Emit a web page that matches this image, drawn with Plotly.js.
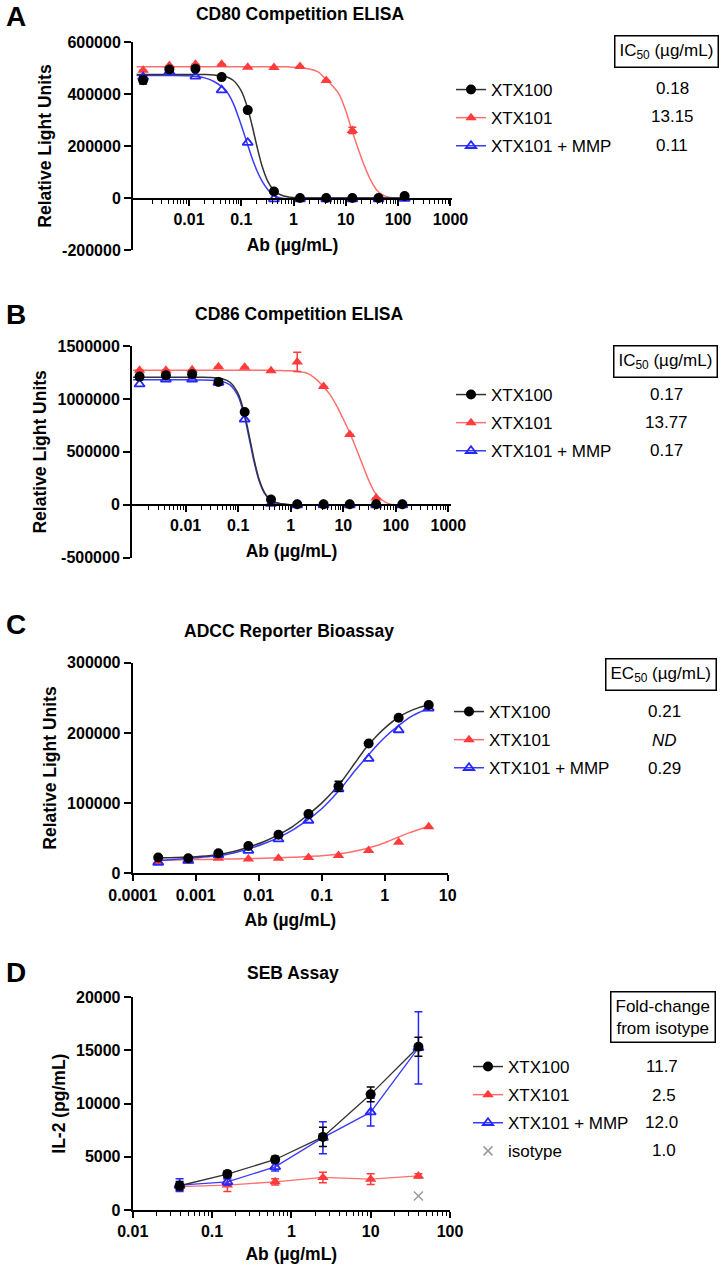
<!DOCTYPE html>
<html><head><meta charset="utf-8">
<script src="https://cdn.plot.ly/plotly-3.0.1.min.js"></script>
<style>html,body{margin:0;padding:0;background:#fff;}#chart{width:728px;height:1270px;}</style>
</head><body><div id="chart"></div>
<script>
// ---------------- DATA ----------------
const seriesNames = ['XTX100', 'XTX101', 'XTX101 + MMP'];
const isotypeName = 'isotype';

// Panels A & B: concentrations (µg/mL)
const concAB = [0.00133, 0.00422, 0.0133, 0.0422, 0.133, 0.422, 1.33, 4.22, 13.3, 42.2, 133];
// Panel A: CD80 competition ELISA (RLU)
const A_xtx100 = [453000, 494000, 497000, 465000, 338000, 25000, 0, 0, 0, 0, 8000];
const A_xtx100_err = [15000, 0, 0, 0, 0, 0, 0, 0, 0, 0, 0];
const A_xtx101 = [491000, 510000, 514000, 514000, 503000, 502000, 506000, 452000, 260000, 3000, -1000];
const A_xtx101_err = [0, 0, 0, 0, 0, 0, 0, 0, 12000, 0, 0];
const A_mmp = [465000, 485000, 468000, 415000, 213000, -4000, -4000, -4000, -4000, -4000, -2000];
// Panel B: CD86 competition ELISA (RLU)
const B_xtx100 = [1211000, 1224000, 1233000, 1161000, 876000, 50000, 5000, 5000, 5000, 5000, 5000];
const B_xtx100_err = [20000, 15000, 25000, 0, 0, 0, 0, 0, 0, 0, 0];
const B_xtx101 = [1270000, 1272000, 1275000, 1305000, 1300000, 1265000, 1350000, 1117000, 664000, 63000, 0];
const B_xtx101_err = [0, 0, 0, 0, 0, 0, 90000, 0, 0, 0, 0];
const B_mmp = [1139000, 1186000, 1186000, 1155000, 807000, 10000, -3000, -3000, -3000, -3000, -3000];

// Fitted curves A & B
const fitX_AB = [0.001, 0.003, 0.01, 0.02, 0.03, 0.05, 0.07, 0.1, 0.13, 0.16, 0.2, 0.25, 0.32, 0.4, 0.5, 0.65, 0.85, 1.2, 2, 3, 4, 5.5, 7.5, 10, 13, 17, 22, 30, 40, 55, 75, 100, 150];
const A_fit_xtx100 = [475000, 475000, 475000, 474600, 473500, 467200, 452900, 412000, 351000, 281700, 197900, 123000, 65100, 34200, 17400, 7660, 3280, 1100, 200, 0, 0, 0, 0, 0, 0, 0, 0, 0, 0, 0, 0, 0, 0];
const A_fit_xtx101 = [505000, 505000, 505000, 505000, 505000, 505000, 505000, 505000, 505000, 505000, 505000, 505000, 505000, 505000, 505000, 504500, 504000, 502000, 496000, 484000, 460000, 432000, 398000, 335000, 262000, 192000, 130000, 68000, 28000, 8000, 1000, -1000, -2000];
const A_fit_mmp = [471000, 471000, 470000, 462000, 448000, 415000, 365000, 280000, 210000, 155000, 105000, 65000, 33000, 13000, 3000, -2000, -1000, 0, 0, 0, 0, 0, 0, 0, 0, 0, 0, 0, 0, 0, 0, 0, 0];
const B_fit_xtx100 = [1205000, 1205000, 1205000, 1204500, 1203000, 1190500, 1157500, 1049600, 872600, 668000, 431700, 241000, 112200, 52800, 24300, 9600, 3700, 1000, 0, 0, 0, 0, 0, 0, 0, 0, 0, 0, 0, 0, 0, 0, 0];
const B_fit_xtx101 = [1270000, 1270000, 1270000, 1270000, 1270000, 1270000, 1270000, 1270000, 1270000, 1270000, 1270000, 1270000, 1270000, 1270000, 1269000, 1268000, 1266000, 1263000, 1245000, 1190000, 1128000, 1045000, 935000, 810000, 690000, 550000, 410000, 240000, 115000, 45000, 8000, 0, -2000];
const B_fit_mmp = [1180000, 1180000, 1180000, 1179000, 1177000, 1165000, 1132000, 1025000, 845000, 640000, 410000, 228000, 105000, 49000, 22000, 9000, 3500, 1000, 0, 0, 0, 0, 0, 0, 0, 0, 0, 0, 0, 0, 0, 0, 0];

// Panel C: ADCC reporter bioassay (RLU)
const concC = [0.000254, 0.000762, 0.00229, 0.00686, 0.0206, 0.0617, 0.185, 0.556, 1.667, 5];
const C_xtx100 = [22400, 21400, 28600, 39000, 54800, 84300, 124000, 184800, 221700, 239800];
const C_xtx100_err = [0, 0, 0, 0, 0, 0, 7000, 0, 0, 0];
const C_xtx101 = [16700, 17600, 21400, 20500, 21400, 22400, 25200, 32400, 44200, 66400];
const C_mmp = [15200, 18100, 26200, 32400, 48600, 75200, 120000, 163300, 204100, 235000];
const fitX_C = [0.00025, 0.0005, 0.001, 0.002, 0.004, 0.007, 0.012, 0.02, 0.035, 0.06, 0.1, 0.15, 0.22, 0.33, 0.5, 0.75, 1.1, 1.7, 2.5, 3.5, 5];
const C_fit_xtx100 = [22000, 22500, 23500, 26000, 31000, 37500, 45000, 54500, 67000, 83000, 100000, 116000, 134000, 156000, 178000, 196000, 210000, 223000, 231000, 236000, 240000];
const C_fit_xtx101 = [18500, 19000, 19500, 20000, 20500, 21000, 21500, 22000, 22800, 23800, 25000, 26500, 28500, 31500, 35000, 39500, 45000, 52000, 58000, 62500, 67000];
const C_fit_mmp = [18000, 20000, 22000, 24500, 29000, 35000, 42000, 50500, 62000, 76000, 92000, 108000, 125000, 145000, 164000, 182000, 197000, 211000, 222000, 229000, 234000];

// Panel D: SEB assay, IL-2 (pg/mL)
const concD = [0.039, 0.156, 0.625, 2.5, 10, 40];
const D_xtx100 = [2280, 3375, 4750, 6875, 10875, 15350];
const D_xtx100_err = [400, 300, 300, 900, 700, 900];
const D_xtx101 = [2200, 2340, 2650, 3060, 2900, 3200];
const D_xtx101_err = [300, 600, 300, 500, 500, 200];
const D_mmp = [2340, 2650, 4060, 6800, 9200, 15250];
const D_mmp_err = [600, 300, 400, 1500, 1300, 3400];
const D_isoX = [40];
const D_isoY = [1320];

// Table values next to legends
const icA = ['0.18', '13.15', '0.11'];
const icB = ['0.17', '13.77', '0.17'];
const ecC = ['0.21', '<i>ND</i>', '0.29'];
const foldD = ['11.7', '2.5', '12.0', '1.0'];

// Tick labels
const xTickValsAB = [0.01, 0.1, 1, 10, 100, 1000];
const xTickTextAB = ['0.01', '0.1', '1', '10', '100', '1000'];
const xTickValsC = [0.0001, 0.001, 0.01, 0.1, 1, 10];
const xTickTextC = ['0.0001', '0.001', '0.01', '0.1', '1', '10'];
const xTickValsD = [0.01, 0.1, 1, 10, 100];
const xTickTextD = ['0.01', '0.1', '1', '10', '100'];
const yTickValsA = [-200000, 0, 200000, 400000, 600000];
const yTickTextA = ['-200000', '0', '200000', '400000', '600000'];
const yTickValsB = [-500000, 0, 500000, 1000000, 1500000];
const yTickTextB = ['-500000', '0', '500000', '1000000', '1500000'];
const yTickValsC = [0, 100000, 200000, 300000];
const yTickTextC = ['0', '100000', '200000', '300000'];
const yTickValsD = [0, 5000, 10000, 15000, 20000];
const yTickTextD = ['0', '5000', '10000', '15000', '20000'];

// ---------------- STYLE / LAYOUT HELPERS ----------------
const W = 728, H = 1270;
const px = v => v / W;
const py = v => 1 - v / H;
const F = 'Liberation Sans, Arial, Helvetica, sans-serif';
const COL = {k: '#000000', r: '#ff3b3b', b: '#2626ff', g: '#9a9a9a'};
const LINE = {k: '#333333', r: '#ff6f6f', b: '#3b3bff'};

function logMinor(lo, hi) {
  const v = [];
  for (let e = lo; e < hi; e++) for (let m = 2; m <= 9; m++) v.push(+(m * Math.pow(10, e)).toPrecision(3));
  return v;
}

const markerStyle = {
  k: {symbol: 'circle', size: 10, color: COL.k},
  r: {symbol: 'triangle-up', size: 10, color: COL.r},
  b: {symbol: 'triangle-up-open', size: 9, color: COL.b, line: {color: COL.b, width: 1.8}}
};

const traces = [];
function errY(arr, c) {
  return arr ? {type: 'data', array: arr, visible: true, color: c, thickness: 1.5, width: 4} : {visible: false};
}
function curve(x, y, c, ax) {
  traces.push({x: x, y: y, type: 'scatter', mode: 'lines', line: {color: LINE[c], width: 1.5, shape: 'spline', smoothing: 0.8},
    xaxis: ax[0], yaxis: ax[1], showlegend: false, hoverinfo: 'skip'});
}
function pts(x, y, err, c, ax, withLine) {
  traces.push({x: x, y: y, type: 'scatter', mode: withLine ? 'lines+markers' : 'markers',
    line: {color: LINE[c], width: 1.3}, marker: markerStyle[c], error_y: errY(err, COL[c]),
    xaxis: ax[0], yaxis: ax[1], showlegend: false, cliponaxis: false});
}
function legendItem(name, c, ax, leg, grp) {
  traces.push({x: [null], y: [null], type: 'scatter', mode: 'lines+markers', name: name,
    line: {color: LINE[c], width: 1.5}, marker: markerStyle[c], xaxis: ax[0], yaxis: ax[1],
    legend: leg, legendgroup: grp, showlegend: true, hoverinfo: 'skip'});
}

// Legend entries (listed first so they keep the reference order)
const axA = ['x', 'y'], axB = ['x2', 'y2'], axC = ['x3', 'y3'], axD = ['x4', 'y4'];
[['legend', axA, 'A'], ['legend2', axB, 'B'], ['legend3', axC, 'C'], ['legend4', axD, 'D']].forEach(([leg, ax, p]) => {
  legendItem(seriesNames[0], 'k', ax, leg, p + '0');
  legendItem(seriesNames[1], 'r', ax, leg, p + '1');
  legendItem(seriesNames[2], 'b', ax, leg, p + '2');
});
traces.push({x: D_isoX, y: D_isoY, type: 'scatter', mode: 'markers', name: isotypeName,
  marker: {symbol: 'x-thin-open', size: 9, color: COL.g, line: {color: COL.g, width: 1.5}},
  xaxis: 'x4', yaxis: 'y4', legend: 'legend4', legendgroup: 'D3', showlegend: true, cliponaxis: false});

// Panel A
curve(fitX_AB, A_fit_xtx101, 'r', axA);
curve(fitX_AB, A_fit_mmp, 'b', axA);
curve(fitX_AB, A_fit_xtx100, 'k', axA);
pts(concAB, A_xtx101, A_xtx101_err, 'r', axA);
pts(concAB, A_mmp, null, 'b', axA);
pts(concAB, A_xtx100, A_xtx100_err, 'k', axA);

// Panel B
curve(fitX_AB, B_fit_xtx101, 'r', axB);
curve(fitX_AB, B_fit_mmp, 'b', axB);
curve(fitX_AB, B_fit_xtx100, 'k', axB);
pts(concAB, B_xtx101, B_xtx101_err, 'r', axB);
pts(concAB, B_mmp, null, 'b', axB);
pts(concAB, B_xtx100, B_xtx100_err, 'k', axB);

// Panel C
curve(fitX_C, C_fit_xtx101, 'r', axC);
curve(fitX_C, C_fit_mmp, 'b', axC);
curve(fitX_C, C_fit_xtx100, 'k', axC);
pts(concC, C_xtx101, null, 'r', axC);
pts(concC, C_mmp, null, 'b', axC);
pts(concC, C_xtx100, C_xtx100_err, 'k', axC);

// Panel D
pts(concD, D_xtx101, D_xtx101_err, 'r', axD, true);
pts(concD, D_mmp, D_mmp_err, 'b', axD, true);
pts(concD, D_xtx100, D_xtx100_err, 'k', axD, true);

// ---------------- AXES ----------------
const tickFont = {family: F, size: 16, weight: 'bold', color: '#000'};
const titleFont = {family: F, size: 17.5, weight: 'bold', color: '#000'};
function xAxis(x0, x1, range, tv, tt, posY, minorRange, standoff) {
  const a = {domain: [px(x0), px(x1)], type: 'log', range: range, tickmode: 'array', tickvals: tv, ticktext: tt,
    ticks: 'outside', ticklen: 6, tickwidth: 2, tickcolor: '#000', showline: true, linecolor: '#000', linewidth: 2,
    showgrid: false, zeroline: false, tickfont: tickFont, automargin: false, fixedrange: true,
    title: {text: 'Ab (µg/mL)', font: titleFont, standoff: standoff}};
  if (posY !== null) { a.anchor = 'free'; a.position = py(posY); }
  if (minorRange) a.minor = {tickmode: 'array', tickvals: logMinor(minorRange[0], minorRange[1]), ticks: 'outside', ticklen: 4, tickwidth: 1, tickcolor: '#000', showgrid: false};
  return a;
}
function yAxis(y0, y1, range, tv, tt, anchor, title, standoff) {
  return {domain: [py(y1), py(y0)], range: range, anchor: anchor, tickmode: 'array', tickvals: tv, ticktext: tt,
    ticks: 'outside', ticklen: 7, tickwidth: 2, tickcolor: '#000', showline: true, linecolor: '#000', linewidth: 2,
    showgrid: false, zeroline: false, tickfont: tickFont, automargin: false, fixedrange: true,
    title: {text: title, font: titleFont, standoff: standoff}};
}

// ---------------- ANNOTATIONS ----------------
const ann = [];
function text(t, x, y, size, bold, opts) {
  ann.push(Object.assign({text: t, x: px(x), y: py(y), xref: 'paper', yref: 'paper', showarrow: false,
    xanchor: 'center', yanchor: 'middle', font: {family: F, size: size, weight: bold ? 'bold' : 'normal', color: '#000'}}, opts || {}));
}
// panel letters
text('A', 16, 16, 28, true); text('B', 16, 314, 28, true); text('C', 16, 624, 28, true); text('D', 16, 972, 28, true);
// panel titles (A uses layout.title)
text('CD86 Competition ELISA', 299, 314, 17.5, true);
text('ADCC Reporter Bioassay', 289, 631, 17.5, true);
text('SEB Assay', 293, 973, 17.5, true);
// header boxes
const boxOpt = {bordercolor: '#000', borderwidth: 1.5, borderpad: 4};
text('IC<sub>50</sub> (µg/mL)', 666, 52, 17, false, boxOpt);
text('IC<sub>50</sub> (µg/mL)', 665, 361, 17, false, boxOpt);
text('EC<sub>50</sub> (µg/mL)', 661, 674, 17, false, boxOpt);
text('Fold-change<br>from isotype', 662.5, 1017, 17, false, boxOpt);
// values
const rowsA = [89, 117, 145.5], rowsB = [394, 422.5, 450], rowsC = [711.5, 740, 768], rowsD = [1066.5, 1095, 1122.5, 1150.5];
const colD = [661.5, 664, 661.5, 664];
icA.forEach((v, i) => text(v, 672, rowsA[i], 17, false));
icB.forEach((v, i) => text(v, 666, rowsB[i], 17, false));
ecC.forEach((v, i) => text(v, 664, rowsC[i], 17, false));
foldD.forEach((v, i) => text(v, colD[i], rowsD[i], 17, false));

function legendBox(xLeft, yTop) {
  return {x: px(xLeft), y: py(yTop), xanchor: 'left', yanchor: 'top', bgcolor: 'rgba(0,0,0,0)', borderwidth: 0,
    font: {family: F, size: 17, color: '#000'}, tracegroupgap: 3, itemwidth: 30, traceorder: 'grouped'};
}

const layout = {
  width: W, height: H, margin: {l: 0, r: 0, t: 0, b: 0}, paper_bgcolor: '#fff', plot_bgcolor: '#fff',
  showlegend: true,
  title: {text: 'CD80 Competition ELISA', x: px(300), xanchor: 'center', y: py(14), yanchor: 'middle',
    font: {family: F, size: 17.5, weight: 'bold', color: '#000'}},
  xaxis: xAxis(133, 452, [-3.07, 3.03], xTickValsAB, xTickTextAB, 199, [-3, 3], 11),
  yaxis: yAxis(42, 250, [-200000, 600000], yTickValsA, yTickTextA, 'x', 'Relative Light Units', 6),
  xaxis2: xAxis(132, 451, [-3.02, 3.05], xTickValsAB, xTickTextAB, 505, [-3, 3], 11),
  yaxis2: yAxis(346, 557.7, [-500000, 1500000], yTickValsB, yTickTextB, 'x2', 'Relative Light Units', 6),
  xaxis3: xAxis(132.7, 448, [-4, 1.005], xTickValsC, xTickTextC, null, null, 11),
  yaxis3: yAxis(662.7, 873.3, [0, 300000], yTickValsC, yTickTextC, 'x3', 'Relative Light Units', 6),
  xaxis4: xAxis(132.7, 450, [-2, 2], xTickValsD, xTickTextD, null, [-2, 2], 9),
  yaxis4: yAxis(997.3, 1210, [0, 20000], yTickValsD, yTickTextD, 'x4', 'IL-2 (pg/mL)', 6),
  legend: legendBox(451, 72),
  legend2: legendBox(451, 377),
  legend3: legendBox(449, 694),
  legend4: legendBox(468, 1049),
  annotations: ann
};
layout.xaxis3.anchor = 'y3';
layout.xaxis4.anchor = 'y4';

Plotly.newPlot('chart', traces, layout, {staticPlot: true, displayModeBar: false});
</script></body></html>
